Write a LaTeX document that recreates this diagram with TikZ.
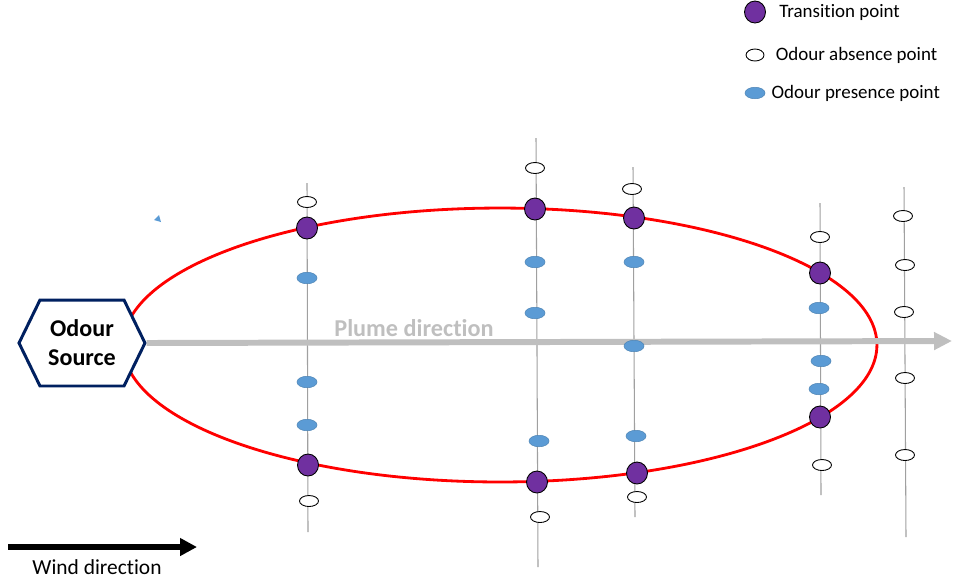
\documentclass[tikz,border=0pt]{standalone}
\usepackage{fontspec}
\setmainfont{Carlito}[Ligatures=NoCommon]
\usetikzlibrary{arrows.meta,positioning,shapes.geometric,shapes.symbols}
\definecolor{transcol}{HTML}{7030A0}
\definecolor{presencecol}{HTML}{5B9BD5}
\definecolor{sourcecol}{HTML}{002060}
\definecolor{plumecol}{HTML}{BFBFBF}
\definecolor{probecol}{HTML}{A0A0A0}
\tikzset{
	transition/.style={ellipse, draw=black, line width=0.5pt, fill=transcol, inner sep=0pt, minimum width=0.42cm, minimum height=0.44cm},
	absence/.style={ellipse, draw=black, line width=0.5pt, fill=white, inner sep=0pt, minimum width=0.38cm, minimum height=0.22cm},
	presence/.style={ellipse, draw=presencecol!85!black, line width=0.3pt, fill=presencecol, inner sep=0pt, minimum width=0.40cm, minimum height=0.23cm},
	probe/.style={draw=probecol, line width=0.6pt},
	boundary/.style={draw=red, line width=1.6pt},
	source/.style={signal, signal to=west and east, signal pointer angle=128, draw=sourcecol, line width=1.7pt, fill=white, inner sep=0pt, minimum width=2.52cm, minimum height=1.72cm, align=center, font=\fontsize{13.7}{16.5}\selectfont\bfseries},
	plume/.style={draw=plumecol, line width=3.4pt, -{Triangle[length=0.36cm, width=0.34cm]}},
	plumelabel/.style={inner sep=0pt, text=plumecol, font=\fontsize{13.8}{16}\selectfont\bfseries},
	wind/.style={draw=black, line width=3.2pt, -{Triangle[length=0.34cm, width=0.34cm]}},
	legtext/.style={inner sep=0pt, font=\fontsize{10.8}{13}\selectfont},
}
\begin{document}
\begin{tikzpicture}[x=0.02cm, y=-0.02cm]
	\useasboundingbox (0,0) rectangle (956,583);

	% legend
	\node (legtrans) [transition] at (755,12) {};
	\node (legabs) [absence, minimum width=0.36cm, minimum height=0.24cm] at (755,55) {};
	\node (legpres) [presence] at (755,93) {};
	\node (legtranstext) [legtext, right=0.26cm of legtrans] {Transition point};
	\node (legabstext) [legtext, right=0.22cm of legabs] {Odour absence point};
	\node (legprestext) [legtext, right=0.12cm of legpres] {Odour presence point};

	% sampling lines
	\coordinate (p1top) at (307,183); \coordinate (p1bot) at (308,532);
	\coordinate (p2top) at (536,138); \coordinate (p2bot) at (538,567);
	\coordinate (p3top) at (633,167); \coordinate (p3bot) at (635,517);
	\coordinate (p4top) at (820,203); \coordinate (p4bot) at (821,495);
	\coordinate (p5top) at (904,187); \coordinate (p5bot) at (906,537);
	\draw [probe] (p1top) -- (p1bot);
	\draw [probe] (p2top) -- (p2bot);
	\draw [probe] (p3top) -- (p3bot);
	\draw [probe] (p4top) -- (p4bot);
	\draw [probe] (p5top) -- (p5bot);

	% plume boundary and source
	\draw [boundary] (500,345) ellipse [x radius=7.54cm, y radius=2.74cm];
	\node (src) [source] at (82,343) {Odour\\Source};
	\coordinate (plumeend) at (952,341);
	\draw [plume] (src.east) -- node[plumelabel, pos=0.332, above=0.05cm] {Plume direction} (plumeend);
	\fill [presencecol] (154,220) -- (159,215) -- (161,222) -- cycle;

	% line 1
	\node (a11) [absence] at (307,202) {};
	\node (t11) [transition] at (307,228) {};
	\node (o11) [presence] at (307,278) {};
	\node (o12) [presence] at (307,382) {};
	\node (o13) [presence] at (307,425) {};
	\node (t12) [transition] at (308,465) {};
	\node (a12) [absence] at (309,501) {};
	% line 2
	\node (a21) [absence] at (535,168) {};
	\node (t21) [transition] at (535,209) {};
	\node (o21) [presence] at (535,262) {};
	\node (o22) [presence] at (535,313) {};
	\node (o23) [presence] at (539,441) {};
	\node (t22) [transition] at (537,482) {};
	\node (a22) [absence] at (540,517) {};
	% line 3
	\node (a31) [absence] at (632,189) {};
	\node (t31) [transition] at (634,218) {};
	\node (o31) [presence] at (634,262) {};
	\node (o32) [presence] at (634,346) {};
	\node (o33) [presence] at (636,436) {};
	\node (t32) [transition] at (637,473) {};
	\node (a32) [absence] at (637,497) {};
	% line 4
	\node (a41) [absence] at (820,237) {};
	\node (t41) [transition] at (820,273) {};
	\node (o41) [presence] at (819,308) {};
	\node (o42) [presence] at (821,361) {};
	\node (o43) [presence] at (819,389) {};
	\node (t42) [transition] at (820,417) {};
	\node (a42) [absence] at (822,465) {};
	% line 5
	\foreach \px/\py [count=\i] in {903/216, 905/265, 904/312, 905/378, 905/455}
		\node (a5\i) [absence] at (\px,\py) {};

	% wind
	\coordinate (windstart) at (8,547);
	\coordinate (windend) at (197,547);
	\draw [wind] (windstart) -- (windend);
	\node (windlabel) [inner sep=0pt, font=\fontsize{12.2}{14}\selectfont] at (97,567) {Wind direction};
\end{tikzpicture}
\end{document}
